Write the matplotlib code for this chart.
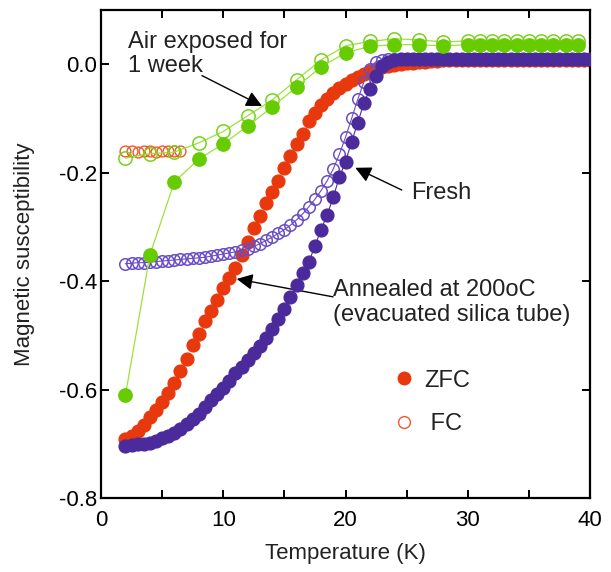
import matplotlib
matplotlib.use("Agg")
import matplotlib.pyplot as plt
from matplotlib.lines import Line2D

plt.rcParams['font.family'] = ['Liberation Sans', 'DejaVu Sans']

# ---------------- data ----------------
# Fresh, ZFC (purple filled)
fresh_zfc_T = [2, 2.5, 3, 3.5, 4, 4.5, 5, 5.5, 6, 6.5, 7, 7.5, 8, 8.5, 9, 9.5, 10, 10.5,
               11, 11.5, 12, 12.5, 13, 13.5, 14, 14.5, 15, 15.5, 16, 16.5, 17, 17.5, 18,
               18.5, 19, 19.5, 20, 20.5, 21, 21.5, 22, 22.5, 23, 23.5, 24, 24.5, 25, 25.5,
               26, 26.5, 27, 27.5, 28, 28.5, 29, 29.5, 30, 30.5, 31, 31.5, 32, 32.5, 33,
               33.5, 34, 34.5, 35, 35.5, 36, 36.5, 37, 37.5, 38, 38.5, 39, 39.5, 40]
fresh_zfc_chi = [-0.704, -0.702, -0.701, -0.700, -0.698, -0.695, -0.690, -0.686, -0.680,
                 -0.673, -0.664, -0.655, -0.645, -0.633, -0.620, -0.609, -0.597, -0.584,
                 -0.570, -0.558, -0.545, -0.533, -0.520, -0.505, -0.488, -0.470, -0.452,
                 -0.430, -0.408, -0.385, -0.365, -0.335, -0.305, -0.278, -0.245, -0.208,
                 -0.180, -0.143, -0.108, -0.072, -0.046, -0.022, -0.003, 0.005, 0.008,
                 0.009, 0.009, 0.009, 0.009, 0.009, 0.009, 0.009, 0.009, 0.009, 0.009,
                 0.009, 0.009, 0.009, 0.009, 0.009, 0.009, 0.009, 0.009, 0.009, 0.009,
                 0.009, 0.009, 0.009, 0.009, 0.009, 0.009, 0.009, 0.009, 0.009, 0.009,
                 0.009, 0.009]

# Fresh, FC (purple open)
fresh_fc_T = [2, 2.5, 3, 3.5, 4, 4.5, 5, 5.5, 6, 6.5, 7, 7.5, 8, 8.5, 9, 9.5, 10, 10.5,
              11, 11.5, 12, 12.5, 13, 13.5, 14, 14.5, 15, 15.5, 16, 16.5, 17, 17.5, 18,
              18.5, 19, 19.5, 20, 20.5, 21, 21.5, 22, 22.5, 23, 23.5, 24, 25, 26, 27, 28,
              29, 30, 31, 32, 33, 34, 35, 36, 37, 38, 39, 40]
fresh_fc_chi = [-0.368, -0.367, -0.366, -0.366, -0.365, -0.364, -0.363, -0.362, -0.361,
                -0.360, -0.359, -0.358, -0.357, -0.356, -0.354, -0.352, -0.350, -0.348,
                -0.346, -0.343, -0.340, -0.336, -0.331, -0.325, -0.319, -0.312, -0.305,
                -0.297, -0.287, -0.276, -0.263, -0.249, -0.233, -0.215, -0.193, -0.166,
                -0.135, -0.100, -0.065, -0.033, -0.008, 0.005, 0.008, 0.009, 0.009, 0.009,
                0.009, 0.009, 0.009, 0.009, 0.009, 0.009, 0.009, 0.009, 0.009, 0.009,
                0.009, 0.009, 0.009, 0.009, 0.009]

# Annealed at 200oC, ZFC (red filled)
anneal_zfc_T = [2, 2.5, 3, 3.5, 4, 4.5, 5, 5.5, 6, 6.5, 7, 7.5, 8, 8.5, 9, 9.5, 10, 10.5,
                11, 11.5, 12, 12.5, 13, 13.5, 14, 14.5, 15, 15.5, 16, 16.5, 17, 17.5, 18,
                18.5, 19, 19.5, 20, 20.5, 21, 21.5, 22, 22.5, 23, 23.5, 24, 24.5, 25, 25.5,
                26, 26.5, 27, 27.5, 28, 28.5, 29, 29.5, 30, 30.5, 31, 31.5, 32, 32.5, 33,
                33.5, 34, 34.5, 35, 35.5, 36, 36.5, 37, 37.5, 38, 38.5, 39, 39.5, 40]
anneal_zfc_chi = [-0.692, -0.686, -0.676, -0.665, -0.651, -0.638, -0.623, -0.606, -0.588,
                  -0.566, -0.544, -0.518, -0.498, -0.474, -0.455, -0.435, -0.413, -0.395,
                  -0.375, -0.352, -0.327, -0.302, -0.280, -0.256, -0.235, -0.215, -0.192,
                  -0.170, -0.148, -0.128, -0.105, -0.090, -0.076, -0.065, -0.053, -0.044,
                  -0.036, -0.029, -0.023, -0.018, -0.013, -0.009, -0.006, -0.003, -0.001,
                  0.001, 0.002, 0.003, 0.004, 0.005, 0.006, 0.006, 0.007, 0.007, 0.007,
                  0.008, 0.008, 0.008, 0.008, 0.008, 0.008, 0.008, 0.008, 0.008, 0.008,
                  0.008, 0.008, 0.008, 0.008, 0.008, 0.008, 0.008, 0.008, 0.008, 0.008,
                  0.008, 0.008]

# Annealed at 200oC, FC (red open)
anneal_fc_T = [2, 2.5, 3, 3.5, 4, 4.5, 5, 5.5, 6, 6.5]
anneal_fc_chi = [-0.160, -0.160, -0.161, -0.160, -0.160, -0.161, -0.160, -0.160, -0.160, -0.160]

# Air exposed for 1 week (green)
air_T = [2, 4, 6, 8, 10, 12, 14, 16, 18, 20, 22, 24, 26, 28, 30, 31, 32, 33, 34, 35, 36,
         37, 38, 39]
air_zfc_chi = [-0.610, -0.352, -0.217, -0.175, -0.147, -0.114, -0.079, -0.042, -0.005,
               0.021, 0.033, 0.036, 0.036, 0.034, 0.036, 0.036, 0.036, 0.036, 0.036,
               0.036, 0.036, 0.036, 0.036, 0.036]
air_fc_chi = [-0.173, -0.165, -0.162, -0.145, -0.124, -0.095, -0.066, -0.029, 0.008,
              0.034, 0.042, 0.047, 0.045, 0.041, 0.043, 0.043, 0.043, 0.043, 0.043,
              0.043, 0.043, 0.043, 0.043, 0.043]

x_ticks = [0, 10, 20, 30, 40]
y_ticks = [-0.8, -0.6, -0.4, -0.2, 0.0]

RED = '#e8380d'
RED_OPEN = '#f05a28'
PURPLE = '#4b2a9c'
PURPLE_OPEN = '#6a4cc4'
GREEN = '#66cc00'
GREEN_OPEN = '#7ad11a'
GREEN_LINE = '#9be33a'

# ---------------- figure ----------------
fig = plt.figure(figsize=(6.11, 5.72), dpi=100)
ax = fig.add_axes([101 / 611, (572 - 498) / 572, 489 / 611, 488 / 572])

ax.plot(anneal_zfc_T, anneal_zfc_chi, 'o', color=RED, ms=9.2, mec=RED, zorder=2)
ax.plot(fresh_fc_T, fresh_fc_chi, 'o-', color=PURPLE_OPEN, lw=0.8, ms=8.3,
        mfc='none', mec=PURPLE_OPEN, mew=1.1, zorder=3)
ax.plot(fresh_zfc_T, fresh_zfc_chi, 'o-', color=PURPLE, lw=0.8, ms=9.2, mec=PURPLE, zorder=4)
ax.plot(anneal_fc_T, anneal_fc_chi, 'o', ms=7.8, mfc='none', mec=RED_OPEN, mew=1.0, zorder=5)
ax.plot(air_T, air_fc_chi, '-', color=GREEN_LINE, lw=0.9, zorder=6)
ax.plot(air_T, air_fc_chi, 'o', ms=9.6, mfc='none', mec=GREEN_OPEN, mew=1.1, zorder=6)
ax.plot(air_T, air_zfc_chi, '-', color=GREEN_LINE, lw=0.9, zorder=7)
ax.plot(air_T, air_zfc_chi, 'o', ms=9.6, color=GREEN, mec=GREEN, zorder=7)

ax.set_xlim(0, 40)
ax.set_ylim(-0.8, 0.1)
ax.set_xticks(x_ticks)
ax.set_xticks([5, 15, 25, 35], minor=True)
ax.set_yticks(y_ticks)
ax.set_yticklabels(['%.1f' % v for v in y_ticks])
ax.tick_params(which='both', direction='in', length=6, width=1.4, top=True, right=True,
               labelsize=16, colors='black')
ax.tick_params(axis='x', pad=8.5)
ax.tick_params(axis='y', pad=3)
for s in ax.spines.values():
    s.set_linewidth(1.6)

ax.set_xlabel('Temperature (K)', fontsize=16, color='#222222', labelpad=9)
ax.set_ylabel('Magnetic susceptibility', fontsize=16, color='#222222', labelpad=17)

txtc = '#222222'
ax.text(2.2, 0.062, 'Air exposed for\n1 week', fontsize=17, color=txtc,
        ha='left', va='top', linespacing=1.12)
ax.annotate('', xy=(13.17, -0.077), xytext=(8.26, -0.021),
            arrowprops=dict(arrowstyle='-|>', color='black', lw=1.0, mutation_scale=24,
                            shrinkA=0, shrinkB=0))
ax.text(25.4, -0.237, 'Fresh', fontsize=17, color=txtc, ha='left', va='center')
ax.annotate('', xy=(20.8, -0.191), xytext=(24.6, -0.232),
            arrowprops=dict(arrowstyle='-|>', color='black', lw=1.0, mutation_scale=24,
                            shrinkA=0, shrinkB=0))
ax.text(19.0, -0.397, 'Annealed at 200oC\n(evacuated silica tube)', fontsize=17,
        color=txtc, ha='left', va='top', linespacing=1.12)
ax.annotate('', xy=(11.1, -0.396), xytext=(18.98, -0.429),
            arrowprops=dict(arrowstyle='-|>', color='black', lw=1.0, mutation_scale=24,
                            shrinkA=0, shrinkB=0))

handles = [Line2D([], [], ls='none', marker='o', ms=9, color=RED, mec=RED),
           Line2D([], [], ls='none', marker='o', ms=8.5, mfc='white', mec=RED_OPEN, mew=1.0)]
leg = ax.legend(handles, ['ZFC', ' FC'], loc='upper left', bbox_to_anchor=(0.595, 0.263),
                frameon=False, fontsize=17, handlelength=1.0, handletextpad=0.35,
                labelspacing=0.9, borderpad=0, borderaxespad=0)
for t in leg.get_texts():
    t.set_color(txtc)

fig.savefig('out.png', dpi=100)
